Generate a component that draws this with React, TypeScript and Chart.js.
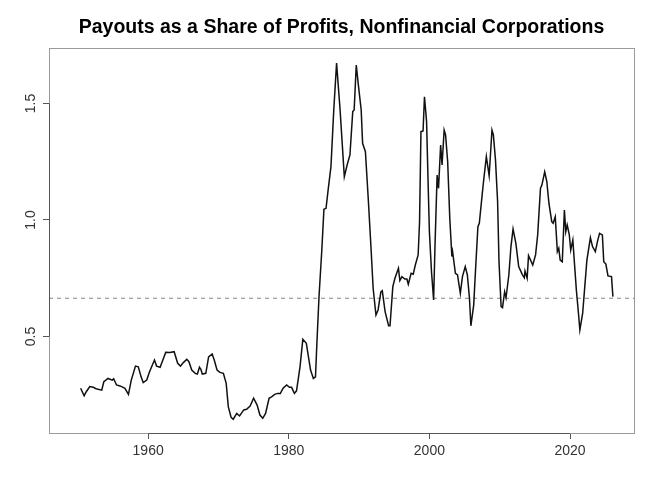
import { useEffect, useRef } from 'react';
import { Chart, registerables } from 'chart.js';

Chart.register(...registerables);

const title = 'Payouts as a Share of Profits, Nonfinancial Corporations';

const years = [
  1950.4, 1950.9, 1951.2, 1951.7, 1952.2, 1952.6, 1953.4, 1953.7, 1954.3, 1954.9,
  1955.1, 1955.5, 1956.0, 1956.7, 1957.2, 1957.6, 1958.2, 1958.6, 1959.0, 1959.3,
  1959.8, 1960.2, 1960.9, 1961.2, 1961.7, 1962.0, 1962.5, 1963.1, 1963.7, 1964.2,
  1964.6, 1965.0, 1965.5, 1965.8, 1966.2, 1966.7, 1967.0, 1967.3, 1967.5, 1967.7,
  1968.2, 1968.6, 1969.1, 1969.4, 1969.8, 1970.2, 1970.7, 1971.1, 1971.4, 1971.8,
  1972.1, 1972.6, 1973.0, 1973.6, 1974.0, 1974.5, 1975.0, 1975.5, 1975.9, 1976.3,
  1976.7, 1977.2, 1977.6, 1978.0, 1978.4, 1978.8, 1979.2, 1979.7, 1980.1, 1980.4,
  1980.8, 1981.1, 1981.6, 1982.0, 1982.5, 1982.8, 1983.1, 1983.5, 1983.8, 1984.0,
  1984.3, 1984.7, 1985.0, 1985.3, 1985.6, 1986.0, 1986.4, 1986.8, 1987.3, 1987.9,
  1988.3, 1988.7, 1989.1, 1989.3, 1989.6, 1989.9, 1990.3, 1990.5, 1990.9, 1991.3,
  1991.7, 1992.0, 1992.4, 1992.7, 1993.1, 1993.3, 1993.7, 1994.2, 1994.4, 1994.8,
  1995.1, 1995.6, 1995.8, 1996.1, 1996.5, 1996.8, 1997.0, 1997.4, 1997.7, 1998.0,
  1998.4, 1998.6, 1998.8, 1999.1, 1999.3, 1999.6, 1999.8, 2000.0, 2000.3, 2000.6,
  2000.8, 2001.1, 2001.3, 2001.6, 2001.8, 2002.1, 2002.3, 2002.6, 2002.9, 2003.2,
  2003.3, 2003.7, 2004.0, 2004.4, 2004.7, 2005.1, 2005.4, 2005.7, 2005.9, 2006.3,
  2006.6, 2006.9, 2007.1, 2007.5, 2007.7, 2008.1, 2008.5, 2008.9, 2009.1, 2009.4,
  2009.7, 2009.9, 2010.2, 2010.4, 2010.7, 2010.9, 2011.3, 2011.6, 2011.9, 2012.3,
  2012.7, 2013.2, 2013.5, 2013.6, 2013.9, 2014.1, 2014.7, 2015.1, 2015.4, 2015.8,
  2016.0, 2016.4, 2016.7, 2017.0, 2017.4, 2017.6, 2017.9, 2018.2, 2018.4, 2018.6,
  2018.9, 2019.2, 2019.4, 2019.6, 2019.9, 2020.1, 2020.4, 2020.6, 2020.9, 2021.2,
  2021.4, 2021.8, 2022.1, 2022.4, 2022.9, 2023.2, 2023.6, 2023.9, 2024.2, 2024.6,
  2024.8, 2025.1, 2025.4, 2025.9, 2026.1,
];

const payout = [
  0.278, 0.246, 0.263, 0.285, 0.282, 0.276, 0.270, 0.306, 0.320, 0.313,
  0.319, 0.292, 0.288, 0.278, 0.252, 0.313, 0.373, 0.370, 0.327, 0.302,
  0.313, 0.349, 0.399, 0.373, 0.368, 0.392, 0.432, 0.431, 0.435, 0.385,
  0.373, 0.388, 0.402, 0.392, 0.356, 0.342, 0.339, 0.368, 0.359, 0.339,
  0.342, 0.413, 0.425, 0.399, 0.356, 0.346, 0.342, 0.299, 0.199, 0.153,
  0.145, 0.170, 0.159, 0.185, 0.188, 0.202, 0.235, 0.206, 0.163, 0.149,
  0.170, 0.235, 0.242, 0.252, 0.256, 0.256, 0.278, 0.292, 0.282, 0.282,
  0.256, 0.267, 0.370, 0.488, 0.471, 0.413, 0.356, 0.320, 0.327, 0.471,
  0.671, 0.871, 1.046, 1.050, 1.129, 1.229, 1.472, 1.673, 1.472, 1.186,
  1.236, 1.279, 1.465, 1.472, 1.665, 1.579, 1.472, 1.329, 1.293, 1.093,
  0.879, 0.707, 0.592, 0.614, 0.692, 0.697, 0.607, 0.546, 0.546, 0.714,
  0.750, 0.793, 0.740, 0.757, 0.747, 0.747, 0.724, 0.771, 0.767, 0.807,
  0.850, 0.990, 1.379, 1.382, 1.529, 1.422, 1.179, 0.950, 0.778, 0.657,
  0.893, 1.193, 1.136, 1.322, 1.236, 1.386, 1.365, 1.250, 1.007, 0.843,
  0.864, 0.771, 0.764, 0.685, 0.757, 0.800, 0.764, 0.664, 0.546, 0.635,
  0.807, 0.971, 0.986, 1.107, 1.165, 1.272, 1.190, 1.386, 1.365, 1.258,
  1.079, 0.821, 0.628, 0.624, 0.692, 0.667, 0.764, 0.886, 0.961, 0.900,
  0.800, 0.767, 0.752, 0.781, 0.750, 0.847, 0.807, 0.850, 0.936, 1.136,
  1.150, 1.207, 1.165, 1.072, 0.993, 0.986, 1.014, 0.864, 0.879, 0.828,
  0.821, 1.043, 0.950, 0.979, 0.936, 0.871, 0.914, 0.828, 0.700, 0.600,
  0.528, 0.600, 0.714, 0.828, 0.924, 0.886, 0.864, 0.907, 0.943, 0.936,
  0.821, 0.811, 0.760, 0.757, 0.671,
];

// long-run average shown as the dashed reference line
const averagePayout = 0.664;

const xTicks = [1960, 1980, 2000, 2020];
const yTicks = [0.5, 1.0, 1.5];
const yTickLabels = ['0.5', '1.0', '1.5'];
const xLimits = [1945.9, 2029.1];
const yLimits = [0.086, 1.738];

const FONT = '"Liberation Sans", Arial, Helvetica, sans-serif';

// R base graphics look: grey box, axis line only between the end ticks,
// rotated y labels, bold title centred over the plot region
const rStyle = {
  id: 'rStyle',
  afterDraw(chart: any) {
    const { ctx, chartArea: a, scales } = chart;
    const xs = scales.x;
    const ys = scales.y;
    ctx.save();

    ctx.strokeStyle = '#9a9a9a';
    ctx.lineWidth = 1;
    ctx.strokeRect(Math.round(a.left) + 0.5, Math.round(a.top) + 0.5,
      Math.round(a.right - a.left), Math.round(a.bottom - a.top));

    ctx.strokeStyle = '#555';
    const by = Math.round(a.bottom) + 0.5;
    ctx.beginPath();
    ctx.moveTo(xs.getPixelForValue(xTicks[0]), by);
    ctx.lineTo(xs.getPixelForValue(xTicks[xTicks.length - 1]), by);
    const lx = Math.round(a.left) + 0.5;
    ctx.moveTo(lx, ys.getPixelForValue(yTicks[0]));
    ctx.lineTo(lx, ys.getPixelForValue(yTicks[yTicks.length - 1]));
    ctx.stroke();

    ctx.fillStyle = '#333';
    ctx.font = `14px ${FONT}`;
    ctx.textAlign = 'center';
    ctx.textBaseline = 'alphabetic';
    yTicks.forEach((v, i) => {
      ctx.save();
      ctx.translate(a.left - 14.5, ys.getPixelForValue(v));
      ctx.rotate(-Math.PI / 2);
      ctx.fillText(yTickLabels[i], 0, 0);
      ctx.restore();
    });

    ctx.fillStyle = '#000';
    ctx.font = `bold 19.5px ${FONT}`;
    ctx.fillText(title, (a.left + a.right) / 2, 33);
    ctx.restore();
  },
};

export default function App() {
  const canvasRef = useRef<HTMLCanvasElement>(null);

  useEffect(() => {
    if (!canvasRef.current) return;

    const chart = new Chart(canvasRef.current, {
      type: 'line',
      data: {
        datasets: [
          {
            data: years.map((x, i) => ({ x, y: payout[i] })),
            borderColor: '#111',
            borderWidth: 1.5,
            pointRadius: 0,
            tension: 0,
            fill: false,
          },
          {
            data: xLimits.map((x) => ({ x, y: averagePayout })),
            borderColor: '#9a9a9a',
            borderWidth: 1.2,
            borderDash: [4, 4],
            pointRadius: 0,
            fill: false,
          },
        ],
      },
      options: {
        responsive: false,
        animation: false,
        layout: { padding: { top: 48, right: 26, left: 0, bottom: 0 } },
        plugins: {
          legend: { display: false },
          tooltip: { enabled: false },
        },
        scales: {
          x: {
            type: 'linear',
            min: xLimits[0],
            max: xLimits[1],
            afterBuildTicks: (scale: any) => {
              scale.ticks = xTicks.map((value) => ({ value }));
            },
            afterFit: (scale: any) => {
              scale.height = 62;
            },
            grid: {
              drawOnChartArea: false,
              drawTicks: true,
              tickLength: 6,
              color: '#555',
            },
            border: { display: false },
            ticks: {
              color: '#333',
              padding: 4,
              maxRotation: 0,
              font: { family: FONT, size: 14 },
              callback: (v: any) => String(v),
            },
          },
          y: {
            type: 'linear',
            min: yLimits[0],
            max: yLimits[1],
            afterBuildTicks: (scale: any) => {
              scale.ticks = yTicks.map((value) => ({ value }));
            },
            afterFit: (scale: any) => {
              scale.width = 49;
            },
            grid: {
              drawOnChartArea: false,
              drawTicks: true,
              tickLength: 6,
              color: '#555',
            },
            border: { display: false },
            ticks: { display: false },
          },
        },
      },
      plugins: [rStyle],
    });

    return () => chart.destroy();
  }, []);

  return (
    <div style={{ position: 'fixed', left: 0, top: 0, width: 660, height: 495, background: '#fff' }}>
      <canvas ref={canvasRef} width={660} height={495} />
    </div>
  );
}
